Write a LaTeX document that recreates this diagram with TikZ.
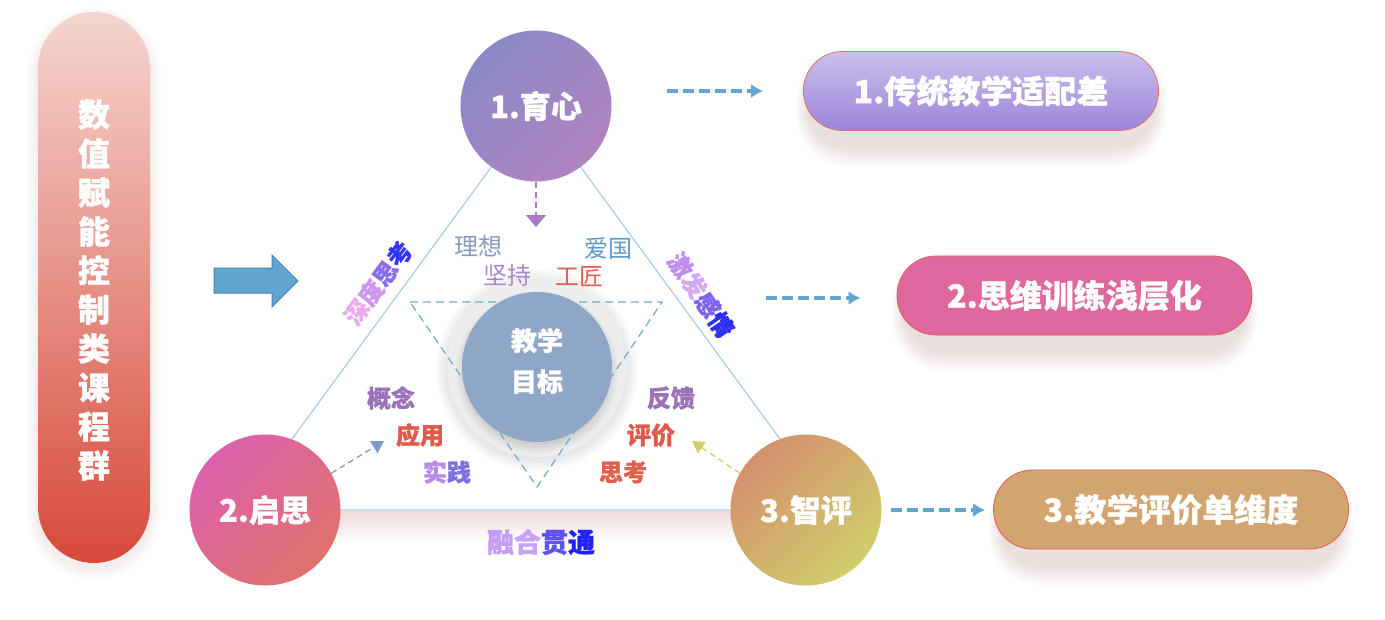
\documentclass[tikz,border=0pt]{standalone}
\usepackage{fontspec}
\setmainfont{Noto Sans CJK SC}[BoldFeatures={FakeBold=1}]
\usetikzlibrary{arrows.meta}
\definecolor{triline}{HTML}{A9CDE6}
\definecolor{dashblue}{HTML}{6AA9D2}
\definecolor{arrblue}{HTML}{62A6CF}
\definecolor{arrblueD}{HTML}{3F86B5}
\definecolor{goalfill}{HTML}{8FA7C6}
\definecolor{shcol}{HTML}{B88C8C}
\definecolor{cPurple}{HTML}{9B72BA}
\definecolor{cRed}{HTML}{E05A4A}
\definecolor{cRed2}{HTML}{E0604F}
\definecolor{pillT}{HTML}{F5D6D0}
\definecolor{pillM}{HTML}{E27C6E}
\definecolor{pillB}{HTML}{D7493B}
\definecolor{glow}{HTML}{EFDADA}
\definecolor{c1a}{HTML}{8A89C8}
\definecolor{c1b}{HTML}{B084BF}
\definecolor{c2a}{HTML}{DD60AE}
\definecolor{c2b}{HTML}{E0726C}
\definecolor{c3a}{HTML}{D4906E}
\definecolor{c3b}{HTML}{D0CE6C}
\definecolor{ar1}{HTML}{A87CC2}
\definecolor{ar2}{HTML}{7F9DC4}
\definecolor{ar3}{HTML}{D2D070}
\definecolor{lxc}{HTML}{8A9AC2}
\definecolor{agc}{HTML}{5C9ACB}
\definecolor{jcc}{HTML}{A888C8}
\definecolor{p1a}{HTML}{CAC0EC}
\definecolor{p1b}{HTML}{9C84DA}
\definecolor{p2f}{HTML}{DF689F}
\definecolor{p3f}{HTML}{D2A46F}
\definecolor{pb1}{HTML}{E8705F}
\definecolor{pb2}{HTML}{E2604E}
\definecolor{g1}{HTML}{B88AE8}
\definecolor{g2}{HTML}{7C70E2}
\definecolor{s1}{HTML}{EBAAF0}
\definecolor{s2}{HTML}{CC96F0}
\definecolor{s3}{HTML}{8C6CF2}
\definecolor{s4}{HTML}{3434F4}
\definecolor{j1}{HTML}{C08CF0}
\definecolor{j2}{HTML}{D4A8F2}
\definecolor{j3}{HTML}{7E62F0}
\definecolor{j4}{HTML}{2E2EF2}
\definecolor{r1}{HTML}{C49CF4}
\definecolor{r2}{HTML}{C8A2F8}
\definecolor{r3}{HTML}{5E52F4}
\definecolor{r4}{HTML}{2222F4}
\newcommand\pillshade[4]{%
  \foreach \s in {1,3,...,21}{%
    \fill[shcol, opacity=0.022, rounded corners={(40+0.6*\s)*1pt}] (#1+6-0.6*\s, #2+18-\s) rectangle (#3-6+0.6*\s, #4+16+\s);
  }}
\newcommand\bigf{\bfseries\fontsize{31}{36}\selectfont}
\newcommand\lblf{\bfseries\fontsize{24}{28}\selectfont}
\newcommand\thinf{\fontsize{24}{28}\selectfont}
\tikzset{
  gcirc/.style 2 args={circle, minimum size=151pt, inner sep=0pt, text=white,
    font=\bigf, top color=#1, bottom color=#2, shading angle=45},
  pill/.style={rectangle, rounded corners=39pt, minimum width=355pt, minimum height=79pt,
    draw=#1, line width=0.8pt, text=white, font=\bfseries\fontsize{32}{38}\selectfont},
  dasharrow/.style={draw=arrblue, line width=3.6pt, dash pattern=on 11pt off 5pt,
    -{Latex[length=12pt,width=14pt]}},
  thinarrow/.style={draw=#1, line width=1.3pt, dash pattern=on 6pt off 4pt,
    -{Triangle[length=12pt,width=14pt]}},
  lbl/.style={inner sep=0pt, font=\lblf},
  thinlbl/.style={inner sep=0pt, font=\thinf},
}
\begin{document}
\begin{tikzpicture}[x=1pt,y=-1pt]
\useasboundingbox (0,0) rectangle (1385,619);
\fill[white] (0,0) rectangle (1385,619);

% ---------- left pill ----------
\foreach \s in {1,3,...,11}{%
  \fill[shcol, opacity=0.022, rounded corners={(56+\s)*1pt}] (38-\s, 18-\s) rectangle (150+\s, 569+\s);}
\node[rectangle, rounded corners=56pt, minimum width=112pt, minimum height=551pt, inner sep=0pt,
  top color=pillT, middle color=pillM, bottom color=pillB] (course) at (94,287.5) {};
\node[text=white, align=center, inner sep=0pt,
  font=\bfseries\fontsize{32}{39}\selectfont] (coursetxt) at (94,290)
  {数\\值\\赋\\能\\控\\制\\类\\课\\程\\群};

% ---------- block arrow ----------
\filldraw[fill=arrblue, draw=arrblueD, line width=1pt]
  (214,268) -- (272,268) -- (272,255) -- (298,281) -- (272,307) -- (272,293) -- (214,293) -- cycle;

% ---------- triangle ----------
\coordinate (tA) at (536,106);
\coordinate (tB) at (240,510);
\coordinate (tC) at (832,510);
\shade[top color=glow, bottom color=white] (330,511) rectangle (740,542);
\draw[triline, line width=1.2pt] (tA) -- (tB) -- (tC) -- cycle;

% ---------- center ----------
\foreach \s in {1,3,...,11}{%
  \fill[black, opacity=0.015] (537,370) circle ({90+\s});}
\fill[black!7] (537,367) circle (90);
\foreach \s in {1,3,...,9}{%
  \fill[black, opacity=0.022] (537,372) circle ({72+\s});}
\draw[dashblue, line width=1.2pt, dash pattern=on 8pt off 5pt] (410,302) -- (662,302) -- (537,487) -- cycle;
\node[circle, minimum size=150pt, inner sep=0pt, fill=goalfill] (goal) at (537,367) {};
\node[text=white, align=center, inner sep=0pt,
  font=\bfseries\fontsize{26}{41}\selectfont] (goaltxt) at (537,361) {教学\\目标};

% ---------- circles ----------
\node[gcirc={c1a}{c1b}] (c1) at (536,106) {1.育心};
\node[gcirc={c2a}{c2b}] (c2) at (265,510) {2.启思};
\node[gcirc={c3a}{c3b}] (c3) at (806,510) {3.智评};

% ---------- inner arrows ----------
\coordinate (t1) at (536,227);
\coordinate (t2) at (384,441);
\coordinate (t3) at (692,441);
\draw[thinarrow=ar1, -{Triangle[length=12pt,width=20pt]}] (c1.south) -- (t1);
\draw[thinarrow=ar2] (c2.29) -- (t2);
\draw[thinarrow=ar3] (c3.151) -- (t3);

% ---------- labels ----------
\node[thinlbl, text=lxc] (lx) at (478,246) {理想};
\node[thinlbl, text=agc] (ag) at (608,249) {爱国};
\node[thinlbl, text=jcc] (jc) at (507,275) {坚持};
\node[thinlbl, text=cRed2] (gj) at (579,277) {工匠};

\node[lbl, text=cPurple] (gn) at (391,398) {概念};
\node[lbl, text=cRed] (yy) at (420,435) {应用};
\node[lbl] (sj) at (447,472) {\textcolor{g1}{实}\textcolor{g2}{践}};
\node[lbl, text=cPurple] (fk) at (671,398) {反馈};
\node[lbl, text=cRed] (pj) at (651,435) {评价};
\node[lbl, text=cRed2] (sk) at (623,472) {思考};

\node[lbl, rotate=53.5] (sdsk) at (378,283)
  {\textcolor{s1}{深}\textcolor{s2}{度}\textcolor{s3}{思}\textcolor{s4}{考}};
\node[lbl, rotate=-55.5] (jfgq) at (701,295)
  {\textcolor{j1}{激}\textcolor{j2}{发}\textcolor{j3}{感}\textcolor{j4}{情}};
\node[inner sep=0pt, font=\bfseries\fontsize{27}{32}\selectfont] (rhgt) at (541,542)
  {\textcolor{r1}{融}\textcolor{r2}{合}\textcolor{r3}{贯}\textcolor{r4}{通}};

% ---------- right pills ----------
\pillshade{802}{52}{1160}{130}
\pillshade{898}{256}{1251}{335}
\pillshade{995}{470}{1347}{549}
\node[pill=pb1, top color=p1a, bottom color=p1b] (p1) at (981,91) {1.传统教学适配差};
\node[pill=pb2, fill=p2f] (p2) at (1074.5,295.5) {2.思维训练浅层化};
\node[pill=pb2, fill=p3f] (p3) at (1171,509.5) {3.教学评价单维度};

% ---------- right arrows ----------
\coordinate (a2s) at (766,298);
\draw[dasharrow] ([xshift=55pt]c1.east |- p1.west) -- ([xshift=-40pt]p1.west);
\draw[dasharrow] (a2s) -- ([xshift=-36pt]p2.west |- a2s);
\draw[dasharrow] ([xshift=9pt]c3.east) -- ([xshift=-8pt]p3.west |- c3.east);
\end{tikzpicture}
\end{document}
